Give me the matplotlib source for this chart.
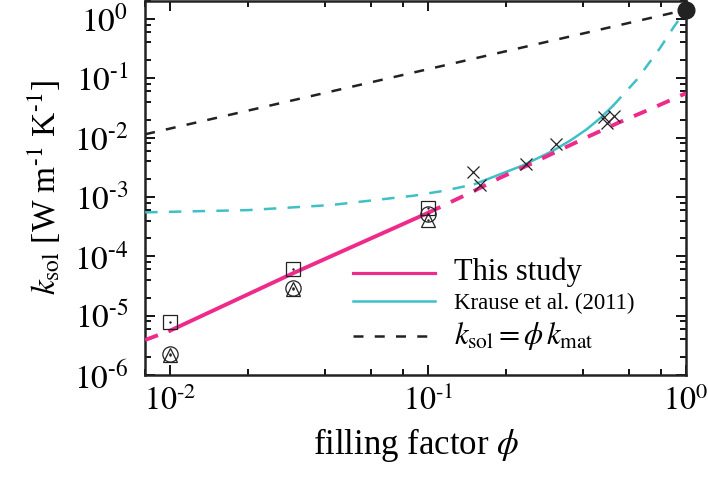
import numpy as np
import matplotlib
matplotlib.use('Agg')
import matplotlib.pyplot as plt
from matplotlib.lines import Line2D
from matplotlib.ticker import LogLocator, FuncFormatter, NullFormatter

plt.rcParams['font.family'] = ['Liberation Serif', 'DejaVu Serif']
plt.rcParams['mathtext.fontset'] = 'stix'

# %% values
# this study (pink): solid 0.01-0.1, dashed outside
phi_this = [0.008, 0.01, 0.03, 0.1, 0.15, 0.19, 0.25, 0.32, 0.41, 0.55, 0.75, 1.0]
k_this = [3.9e-6, 5.6e-6, 5.2e-5, 5.4e-4, 1.25e-3, 2.1e-3, 3.6e-3, 6.0e-3,
          1.0e-2, 1.8e-2, 3.2e-2, 5.6e-2]

# Krause et al. (2011) (cyan): solid 0.152-0.52, dashed outside
phi_krause = [0.008, 0.02, 0.042, 0.088, 0.114, 0.142, 0.152, 0.233, 0.305,
              0.36, 0.413, 0.465, 0.52, 0.645, 0.792, 0.9, 1.0]
k_krause = [5.5e-4, 6.0e-4, 7.3e-4, 1.05e-3, 1.26e-3, 1.54e-3, 1.65e-3, 3.4e-3,
            6.0e-3, 9.2e-3, 1.39e-2, 2.13e-2, 3.4e-2, 9.5e-2, 0.32, 0.75, 1.42]

# k_sol = phi * k_mat (black dashed)
k_mat = 1.42
phi_lin = [0.008, 1.0]

# simulation points
phi_pts = [0.01, 0.03, 0.1]
k_square = [7.9e-6, 6.0e-5, 6.5e-4]
k_circle = [2.3e-6, 2.9e-5, 5.1e-4]
k_triangle = [2.2e-6, 2.85e-5, 4.1e-4]

# crosses (other data)
phi_cross = [0.149, 0.159, 0.24, 0.313, 0.481, 0.526, 0.494]
k_cross = [2.6e-3, 1.6e-3, 3.6e-3, 7.9e-3, 2.18e-2, 2.27e-2, 1.73e-2]

pink = '#ee2a8a'
cyan = '#3fc0c7'
black = '#222222'

# %%
fig = plt.figure(figsize=(7.08, 4.79), dpi=100)
ax = fig.add_axes([0.205, 0.217, 0.764, 0.781])

# black dashed
ax.plot(phi_lin, [p * k_mat for p in phi_lin], color=black, lw=1.8,
        dashes=(4, 4.5), zorder=3)

# cyan
ax.plot(phi_krause[:7], k_krause[:7], color=cyan, lw=1.8, dashes=(5, 4.5), zorder=4)
ax.plot(phi_krause[6:13], k_krause[6:13], color=cyan, lw=1.8, zorder=4)
ax.plot(phi_krause[12:], k_krause[12:], color=cyan, lw=1.8, dashes=(5, 4.5), zorder=4)

# pink
ax.plot(phi_this[:2], k_this[:2], color=pink, lw=2.8, dashes=(3.5, 3), zorder=5)
ax.plot(phi_this[1:4], k_this[1:4], color=pink, lw=2.8, zorder=5)
ax.plot(phi_this[3:], k_this[3:], color=pink, lw=2.8, dashes=(3.5, 3), zorder=5)

# points
ax.plot(phi_pts, k_square, ls='none', marker='s', ms=10.5, mfc='none',
        mec=black, mew=0.9, zorder=6)
ax.plot(phi_pts, k_circle, ls='none', marker='o', ms=11, mfc='none',
        mec=black, mew=0.9, zorder=6)
ax.plot(phi_pts, k_triangle, ls='none', marker='^', ms=10, mfc='none',
        mec=black, mew=0.9, zorder=6)
for kk in (k_square, k_circle, k_triangle):
    ax.plot(phi_pts, kk, ls='none', marker='.', ms=1.5, color=black, zorder=6)
ax.plot(phi_cross, k_cross, ls='none', marker='x', ms=9, mec=black, mew=0.9,
        zorder=6)

# material point
ax.plot([1.0], [k_mat], ls='none', marker='o', ms=12, color=black,
        clip_on=False, zorder=10)

ax.set_xscale('log')
ax.set_yscale('log')
ax.set_xlim(0.008, 1.0)
ax.set_ylim(1e-6, 2.0)


def exp_label(v, pos):
    e = int(round(np.log10(v)))
    if e < 0:
        return r'$10^{\text{-}%d}$' % (-e)
    return r'$10^{%d}$' % e


for a in (ax.xaxis, ax.yaxis):
    a.set_major_locator(LogLocator(base=10, numticks=20))
    a.set_minor_locator(LogLocator(base=10, subs=(2, 4, 6, 8), numticks=20))
    a.set_minor_formatter(NullFormatter())
    a.set_major_formatter(FuncFormatter(exp_label))

ax.tick_params(which='both', direction='in', top=True, right=True, width=1.3)
ax.tick_params(which='major', length=7)
ax.tick_params(which='minor', length=4.5)
ax.tick_params(axis='x', which='major', labelsize=23, pad=8)
ax.tick_params(axis='y', which='major', labelsize=24, pad=12)
for s in ax.spines.values():
    s.set_linewidth(1.8)
    s.set_color(black)

ax.set_xlabel(r'filling factor $\phi$', fontsize=25, labelpad=6)
ax.set_ylabel(r'$k_{\rm sol}$ [W m$^{\text{-}1}$ K$^{\text{-}1}$]', fontsize=24,
              labelpad=8)

handles = [Line2D([], [], color=pink, lw=2.3),
           Line2D([], [], color=cyan, lw=1.8),
           Line2D([], [], color=black, lw=1.8, dashes=(4, 4.5))]
labels = ['This study', 'Krause et al. (2011)',
          r'$k_{\rm sol} = \phi\, k_{\rm mat}$']
leg = ax.legend(handles, labels, loc='upper left', bbox_to_anchor=(0.367, 0.337),
                frameon=False, fontsize=16, handlelength=3.7, handletextpad=0.85,
                labelspacing=0.25, borderaxespad=0)
sizes = [22, 16.5, 22]
for t, s in zip(leg.get_texts(), sizes):
    t.set_fontsize(s)

plt.savefig('out.png', dpi=100)
